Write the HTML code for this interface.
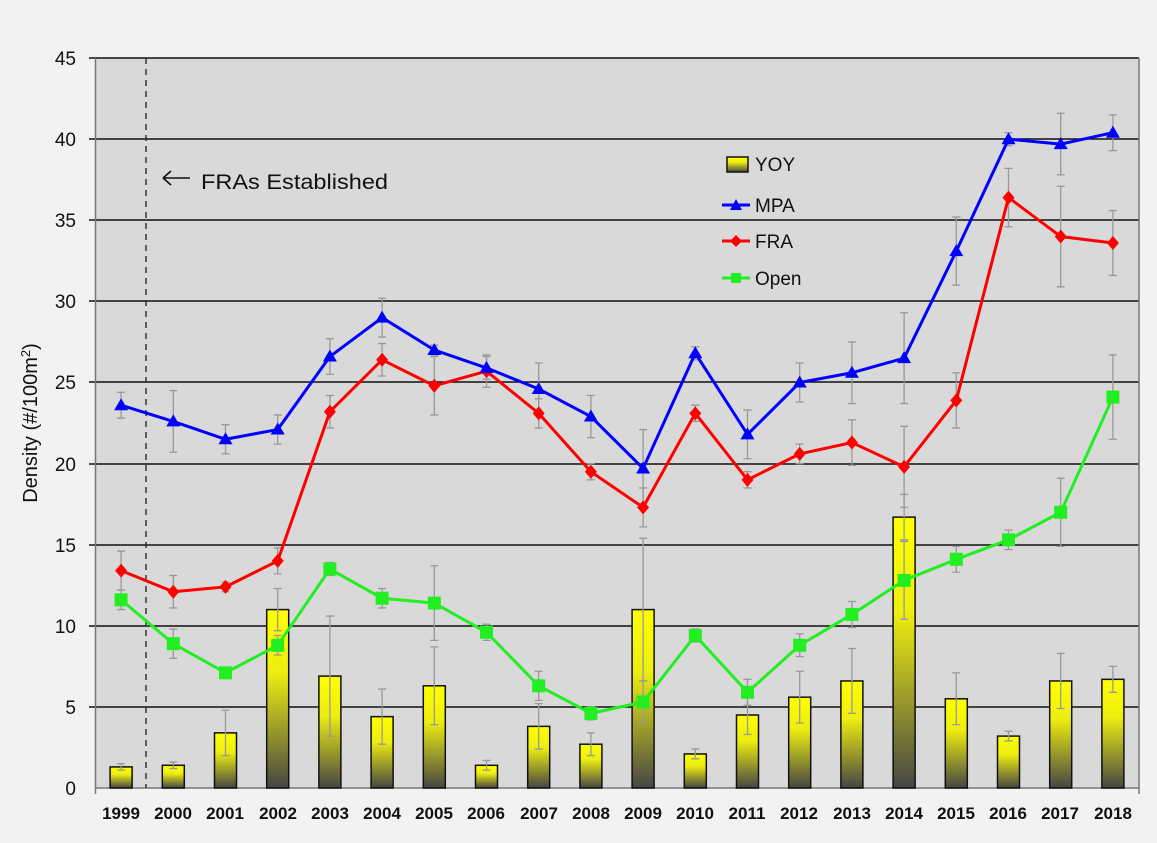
<!DOCTYPE html><html><head><meta charset="utf-8"><style>html,body{margin:0;padding:0;background:#f2f2f2}svg{display:block;font-family:"Liberation Sans",sans-serif}</style></head><body>
<svg id="s" width="1157" height="843" xmlns="http://www.w3.org/2000/svg">
<defs><linearGradient id="g" x1="0" y1="0" x2="0" y2="1"><stop offset="0" stop-color="#ffff00"/><stop offset="0.35" stop-color="#eeee10"/><stop offset="1" stop-color="#454545"/></linearGradient></defs>
<rect x="0" y="0" width="1157" height="843" fill="#f2f2f2"/>
<rect x="95" y="58" width="1044" height="730" fill="#d9d9d9"/>
<g stroke="#111" stroke-width="1.5">
<line x1="89" y1="58" x2="1139" y2="58"/><line x1="89" y1="139" x2="1139" y2="139"/><line x1="89" y1="220" x2="1139" y2="220"/><line x1="89" y1="301" x2="1139" y2="301"/><line x1="89" y1="382" x2="1139" y2="382"/><line x1="89" y1="464" x2="1139" y2="464"/><line x1="89" y1="545" x2="1139" y2="545"/><line x1="89" y1="626" x2="1139" y2="626"/><line x1="89" y1="707" x2="1139" y2="707"/>
</g>
<line x1="95.5" y1="58" x2="95.5" y2="794" stroke="#777" stroke-width="1.5"/>
<line x1="1139" y1="58" x2="1139" y2="794" stroke="#777" stroke-width="1.5"/>
<line x1="95" y1="788" x2="1139" y2="788" stroke="#777" stroke-width="1.5"/>
<line x1="146" y1="58" x2="146" y2="788" stroke="#333" stroke-width="1.5" stroke-dasharray="6,5"/>
<g id="d"></g>
<g font-size="19" text-anchor="end" fill="#111">
<text x="76" y="65">45</text><text x="76" y="146">40</text><text x="76" y="227">35</text><text x="76" y="308">30</text><text x="76" y="389">25</text><text x="76" y="471">20</text><text x="76" y="552">15</text><text x="76" y="633">10</text><text x="76" y="714">5</text><text x="76" y="795">0</text>
</g>
<g font-size="17" font-weight="bold" text-anchor="middle" fill="#111">
<text x="121" y="819">1999</text><text x="173" y="819">2000</text><text x="225" y="819">2001</text><text x="278" y="819">2002</text><text x="330" y="819">2003</text><text x="382" y="819">2004</text><text x="434" y="819">2005</text><text x="486" y="819">2006</text><text x="539" y="819">2007</text><text x="591" y="819">2008</text><text x="643" y="819">2009</text><text x="695" y="819">2010</text><text x="747" y="819">2011</text><text x="799" y="819">2012</text><text x="852" y="819">2013</text><text x="904" y="819">2014</text><text x="956" y="819">2015</text><text x="1008" y="819">2016</text><text x="1060" y="819">2017</text><text x="1113" y="819">2018</text>
</g>
<text transform="translate(37,423) rotate(-90)" font-size="20" text-anchor="middle" fill="#111">Density (#/100m<tspan font-size="13" dy="-7">2</tspan><tspan dy="7">)</tspan></text>
<path d="M163 178h27M163 178l8-7M163 178l8 7" stroke="#111" stroke-width="1.6" fill="none"/>
<text x="201" y="189" font-size="21" fill="#111" textLength="187" lengthAdjust="spacingAndGlyphs">FRAs Established</text>
<rect x="727" y="157" width="21" height="15" fill="url(#g)" stroke="#111" stroke-width="1.5"/>
<text x="755" y="171" font-size="19" fill="#111">YOY</text>
<line x1="722" y1="205" x2="750" y2="205" stroke="#0000ff" stroke-width="3"/><polygon points="736,199 742,210 730,210" fill="#0000ff"/>
<text x="755" y="212" font-size="19" fill="#111">MPA</text>
<line x1="722" y1="241" x2="750" y2="241" stroke="#ff0000" stroke-width="3"/><polygon points="736,235 742,241 736,247 730,241" fill="#ff0000"/>
<text x="755" y="248" font-size="19" fill="#111">FRA</text>
<line x1="722" y1="278" x2="750" y2="278" stroke="#22ee22" stroke-width="3"/><rect x="731" y="273" width="10" height="10" fill="#22ee22"/>
<text x="755" y="285" font-size="19" fill="#111">Open</text>
</svg>
<script>
var X=i=>121.1+52.2*i,Y=v=>788-16.22*v;
var yoy=[1.3,1.4,3.4,11,6.9,4.4,6.3,1.4,3.8,2.7,11,2.1,4.5,5.6,6.6,16.7,5.5,3.2,6.6,6.7];
var ye=[0.2,0.2,1.4,1.3,3.7,1.7,2.4,0.3,1.4,0.7,4.4,0.3,1.2,1.6,2,1.4,1.6,0.3,1.7,0.8];
var mpa=[23.6,22.6,21.5,22.1,26.6,29,27,25.9,24.6,22.9,19.7,26.8,21.8,25,25.6,26.5,33.1,40,39.7,40.4];
var me=[0.8,1.9,0.9,0.9,1.1,1.2,0.3,0.7,1.6,1.3,2.4,0.4,1.5,1.2,1.9,2.8,2.1,0.4,1.9,1.1];
var fra=[13.4,12.1,12.4,14,23.2,26.4,24.8,25.7,23.1,19.5,17.3,23.1,19,20.6,21.3,19.8,23.9,36.4,34,33.6];
var fe=[1.2,1,0.3,0.8,1,1,1.8,1,0.9,0.5,1.2,0.5,0.5,0.6,1.4,2.5,1.7,1.8,3.1,2];
var op=[11.6,8.9,7.1,8.8,13.5,11.7,11.4,9.6,6.3,4.6,5.3,9.4,5.9,8.8,10.7,12.8,14.1,15.3,17,24.1];
var oe=[0.6,0.9,0.3,0.6,0.4,0.6,2.3,0.5,0.9,0.4,1.3,0.4,0.8,0.7,0.8,2.4,0.8,0.6,2.1,2.6];
var h='';
function eb(a,e){for(var i=0;i<20;i++){var x=X(i);h+='<path d="M'+x+' '+Y(a[i]+e[i])+'V'+Y(a[i]-e[i])+'M'+(x-4)+' '+Y(a[i]+e[i])+'h8M'+(x-4)+' '+Y(a[i]-e[i])+'h8" stroke="#999" stroke-width="1.3" fill="none"/>';}}
for(var i=0;i<20;i++){h+='<rect x="'+(X(i)-11)+'" y="'+Y(yoy[i])+'" width="22" height="'+(788-Y(yoy[i]))+'" fill="url(#g)" stroke="#111" stroke-width="1.5"/>';}
eb(yoy,ye);eb(mpa,me);eb(fra,fe);eb(op,oe);
function ln(a,c){h+='<polyline fill="none" stroke="'+c+'" stroke-width="3" points="'+a.map((v,i)=>X(i)+','+Y(v)).join(' ')+'"/>';}
ln(op,'#22ee22');ln(fra,'#ff0000');ln(mpa,'#0000ff');
for(i=0;i<20;i++){var x=X(i),y;
y=Y(op[i]);h+='<rect x="'+(x-6.5)+'" y="'+(y-6.5)+'" width="13" height="13" fill="#22ee22"/>';
y=Y(fra[i]);h+='<polygon points="'+x+','+(y-7)+' '+(x+6)+','+y+' '+x+','+(y+7)+' '+(x-6)+','+y+'" fill="#ff0000"/>';
y=Y(mpa[i]);h+='<polygon points="'+x+','+(y-7)+' '+(x+7)+','+(y+5)+' '+(x-7)+','+(y+5)+'" fill="#0000ff"/>';}
document.getElementById('d').innerHTML=h;
</script>
</body></html>
